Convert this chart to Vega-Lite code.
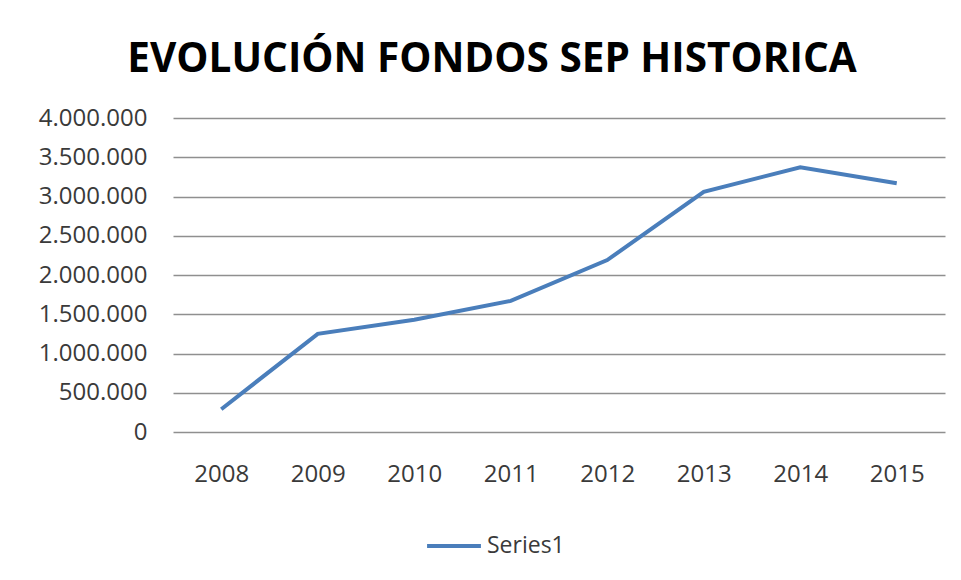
{
  "$schema": "https://vega.github.io/schema/vega-lite/v6.json",
  "autosize": "none",
  "width": 772,
  "height": 314,
  "padding": {"left": 173, "top": 118, "right": 16, "bottom": 148},
  "background": "white",
  "config": {
    "view": {"stroke": null},
    "locale": {"number": {"decimal": ",", "thousands": ".", "grouping": [3], "currency": ["", " €"]}},
    "font": "Open Sans"
  },
  "title": {
    "text": "EVOLUCIÓN FONDOS SEP HISTORICA",
    "font": "Open Sans",
    "fontWeight": "bold",
    "fontSize": 40.5,
    "color": "#000000",
    "anchor": "middle",
    "dx": -67,
    "offset": 26
  },
  "data": {
    "values": [
      {"anio": "2008", "valor": 290000, "serie": "Series1"},
      {"anio": "2009", "valor": 1250000, "serie": "Series1"},
      {"anio": "2010", "valor": 1430000, "serie": "Series1"},
      {"anio": "2011", "valor": 1670000, "serie": "Series1"},
      {"anio": "2012", "valor": 2190000, "serie": "Series1"},
      {"anio": "2013", "valor": 3060000, "serie": "Series1"},
      {"anio": "2014", "valor": 3372000, "serie": "Series1"},
      {"anio": "2015", "valor": 3168000, "serie": "Series1"}
    ]
  },
  "mark": {"type": "line", "strokeWidth": 4, "strokeJoin": "miter"},
  "encoding": {
    "x": {
      "field": "anio",
      "type": "ordinal",
      "scale": {"type": "point", "padding": 0.5},
      "axis": {
        "title": null,
        "domain": false,
        "ticks": false,
        "labelAngle": 0,
        "labelFontSize": 24,
        "labelColor": "#3a3a3a",
        "labelPadding": 30
      }
    },
    "y": {
      "field": "valor",
      "type": "quantitative",
      "scale": {"domain": [0, 4000000], "nice": false},
      "axis": {
        "title": null,
        "values": [0, 500000, 1000000, 1500000, 2000000, 2500000, 3000000, 3500000, 4000000],
        "format": ",d",
        "domain": false,
        "ticks": false,
        "grid": true,
        "gridColor": "#8f8f8f",
        "gridWidth": 1.5,
        "labelFontSize": 24,
        "labelColor": "#3a3a3a",
        "labelPadding": 26
      }
    },
    "color": {
      "field": "serie",
      "type": "nominal",
      "scale": {"range": ["#4A7EBB"]},
      "legend": {
        "title": null,
        "orient": "none",
        "legendX": 252,
        "legendY": 399,
        "symbolType": "stroke",
        "symbolSize": 2900,
        "symbolStrokeWidth": 4,
        "labelFontSize": 23,
        "labelColor": "#3a3a3a",
        "labelOffset": 4
      }
    }
  }
}
